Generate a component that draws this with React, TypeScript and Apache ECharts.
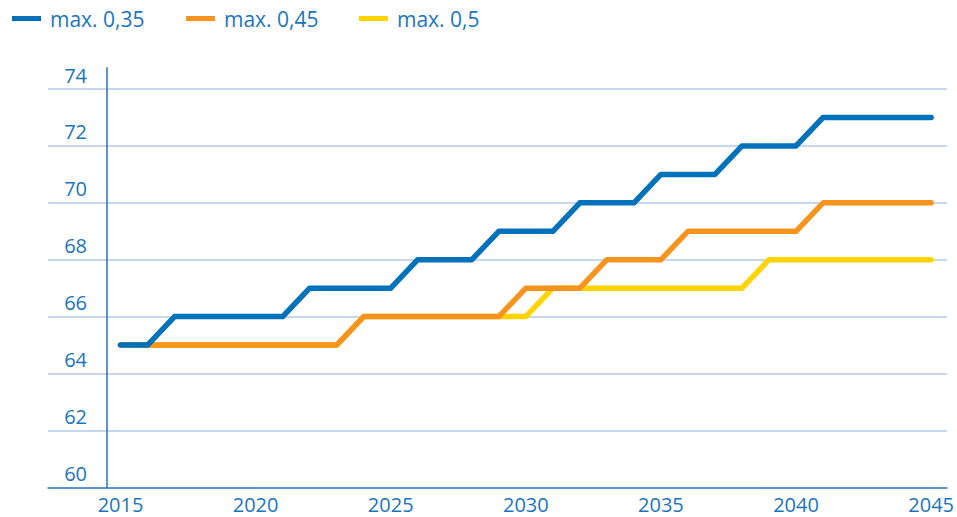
import React, { useEffect, useRef } from "react";
import * as echarts from "echarts";

const years: string[] = [
  "2015", "2016", "2017", "2018", "2019", "2020", "2021", "2022", "2023", "2024",
  "2025", "2026", "2027", "2028", "2029", "2030", "2031", "2032", "2033", "2034",
  "2035", "2036", "2037", "2038", "2039", "2040", "2041", "2042", "2043", "2044", "2045",
];

const max035: number[] = [
  65, 65, 66, 66, 66, 66, 66, 67, 67, 67,
  67, 68, 68, 68, 69, 69, 69, 70, 70, 70,
  71, 71, 71, 72, 72, 72, 73, 73, 73, 73, 73,
];

const max045: number[] = [
  65, 65, 65, 65, 65, 65, 65, 65, 65, 66,
  66, 66, 66, 66, 66, 67, 67, 67, 68, 68,
  68, 69, 69, 69, 69, 69, 70, 70, 70, 70, 70,
];

const max05: number[] = [
  65, 65, 65, 65, 65, 65, 65, 65, 65, 66,
  66, 66, 66, 66, 66, 66, 67, 67, 67, 67,
  67, 67, 67, 67, 68, 68, 68, 68, 68, 68, 68,
];

const seriesNames: string[] = ["max. 0,35", "max. 0,45", "max. 0,5"];
const seriesColors: string[] = ["#0071bb", "#f7941e", "#ffd400"];
const legendLefts: number[] = [12, 186, 359];

const TEXT = "#1b75bc";
const AXIS = "#2a73b8";
const GRID = "#b5cbe8";
const FONT = "'Open Sans', 'Noto Sans', sans-serif";

export default function App() {
  const ref = useRef<HTMLDivElement>(null);

  useEffect(() => {
    if (!ref.current) return;
    const chart = echarts.init(ref.current, undefined, { renderer: "svg" });
    const top = 67.7;
    const bottom = 29.7;
    const mkSeries = (i: number, data: number[]) => ({
      name: seriesNames[i],
      type: "line",
      xAxisIndex: 0,
      yAxisIndex: 0,
      data,
      showSymbol: false,
      symbol: "none",
      itemStyle: { color: seriesColors[i] },
      lineStyle: { color: seriesColors[i], width: 5.5, cap: "round", join: "round" },
      emphasis: { disabled: true },
    });
    const legends = seriesNames.map((n, i) => ({
      left: legendLefts[i],
      top: 8,
      padding: 0,
      itemWidth: 29,
      itemHeight: 5,
      icon: "rect",
      selectedMode: false,
      data: [n],
      textStyle: {
        color: TEXT,
        fontSize: 21,
        fontFamily: FONT,
        padding: [0, 0, 0, 4],
      },
    }));
    chart.setOption({
      animation: false,
      textStyle: { fontFamily: FONT },
      legend: legends,
      grid: [
        { left: 107, right: 11, top, bottom },
        { left: 48, right: 10, top, bottom },
      ],
      xAxis: [
        {
          type: "category",
          gridIndex: 0,
          data: years,
          boundaryGap: true,
          axisLine: { show: false },
          axisTick: { show: false },
          splitLine: { show: false },
          axisLabel: {
            interval: (idx: number) => idx % 5 === 0,
            color: TEXT,
            fontSize: 20,
            fontFamily: FONT,
            margin: 7,
            lineHeight: 20,
          },
        },
        {
          type: "value",
          gridIndex: 1,
          min: 0,
          max: 1,
          axisLine: { show: true, lineStyle: { color: AXIS, width: 1.5 } },
          axisTick: { show: false },
          axisLabel: { show: false },
          splitLine: { show: false },
        },
      ],
      yAxis: [
        {
          type: "value",
          gridIndex: 0,
          min: 60,
          max: 74.75,
          interval: 2,
          axisLine: { show: true, lineStyle: { color: AXIS, width: 1.5 } },
          axisTick: { show: false },
          splitLine: { show: false },
          axisLabel: {
            color: TEXT,
            fontSize: 20,
            fontFamily: FONT,
            margin: 20,
            verticalAlign: "bottom",
            lineHeight: 20,
            padding: [0, 0, 4, 0],
            showMaxLabel: false,
          },
        },
        {
          type: "value",
          gridIndex: 1,
          min: 60,
          max: 74.75,
          interval: 2,
          axisLine: { show: false },
          axisTick: { show: false },
          axisLabel: { show: false },
          splitLine: {
            show: true,
            showMinLine: false,
            showMaxLine: false,
            lineStyle: { color: GRID, width: 1.5 },
          },
        },
      ],
      series: [mkSeries(2, max05), mkSeries(1, max045), mkSeries(0, max035)],
    });
    return () => chart.dispose();
  }, []);

  return (
    <div
      ref={ref}
      style={{ position: "fixed", left: 0, top: 0, width: 957, height: 517, background: "#ffffff" }}
    />
  );
}
